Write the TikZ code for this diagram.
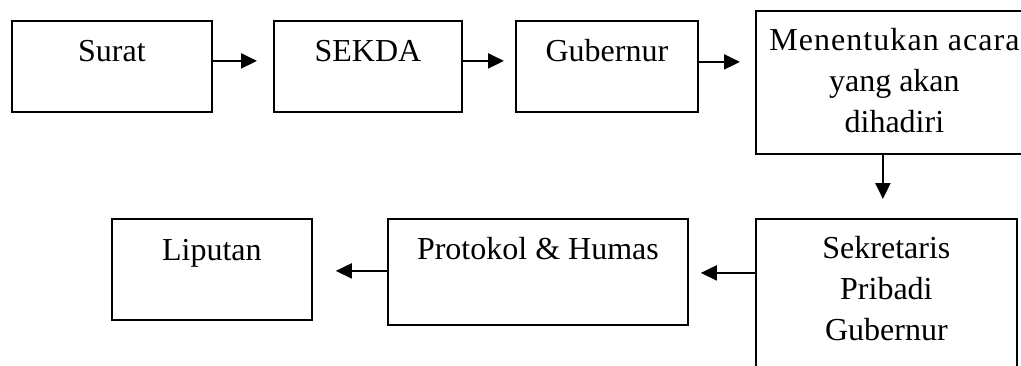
\documentclass[tikz,border=0pt]{standalone}
\usepackage{fontspec}
\setmainfont{Liberation Serif}
\newfontfamily\spacedfont[LetterSpace=3.3]{Liberation Serif}
\usetikzlibrary{arrows.meta}
\begin{document}
\begin{tikzpicture}[x=1pt,y=-1pt,
  box/.style={draw, line width=1.8pt, anchor=north west, inner sep=0pt},
  lbl/.style={anchor=base, align=center, inner sep=0pt, font=\fontsize{32}{41}\selectfont},
  flow/.style={line width=2pt, -{Triangle[length=16pt,width=15pt]}}]
\useasboundingbox (0,0) rectangle (1021,365);
\clip (0,0) rectangle (1021,365);

% boxes
\node[box, minimum width=200pt, minimum height=91pt]  (b1) at (11,20) {};
\node[box, minimum width=188pt, minimum height=91pt]  (b2) at (273,20) {};
\node[box, minimum width=182pt, minimum height=91pt]  (b3) at (515,20) {};
\node[box, minimum width=277pt, minimum height=143pt] (b4) at (755,10) {};
\node[box, minimum width=200pt, minimum height=101pt] (b5) at (111,218) {};
\node[box, minimum width=300pt, minimum height=106pt] (b6) at (387,218) {};
\node[box, minimum width=261pt, minimum height=154pt] (b7) at (755,218) {};

% labels near the top of each box (base = baseline of the last line)
\node[lbl] (t1) at ([yshift=-41pt]b1.north) {Surat};
\node[lbl] (t2) at ([yshift=-41pt]b2.north) {SEKDA};
\node[lbl] (t3) at ([yshift=-41pt]b3.north) {Gubernur};
\node[lbl] (t4) at ([yshift=-122pt]b4.north) {{\spacedfont Menentukan acara}\\yang akan\\dihadiri};
\node[lbl] (t5) at ([yshift=-42pt]b5.north) {Liputan};
\node[lbl] (t6) at ([yshift=-41pt]b6.north) {Protokol \& Humas};
\node[lbl] (t7) at ([yshift=-122pt]b7.north) {Sekretaris\\Pribadi\\Gubernur};

% connectors
\draw[flow] ([yshift=5.5pt]b1.east) -- ([yshift=5.5pt,xshift=-16pt]b2.west);
\draw[flow] ([yshift=5.5pt]b2.east) -- ([yshift=5.5pt,xshift=-11pt]b3.west);
\draw[flow] ([yshift=4.5pt]b3.east) -- ([yshift=20.5pt,xshift=-15pt]b4.west);
\draw[flow] ([xshift=-11.5pt]b4.south) -- ([xshift=-3.5pt,yshift=19pt]b7.north);
\draw[flow] ([yshift=23pt]b7.west) -- ([yshift=-1pt,xshift=12pt]b6.east);
\draw[flow] ([yshift=1pt]b6.west) -- ([yshift=-1.5pt,xshift=23pt]b5.east);
\end{tikzpicture}
\end{document}
